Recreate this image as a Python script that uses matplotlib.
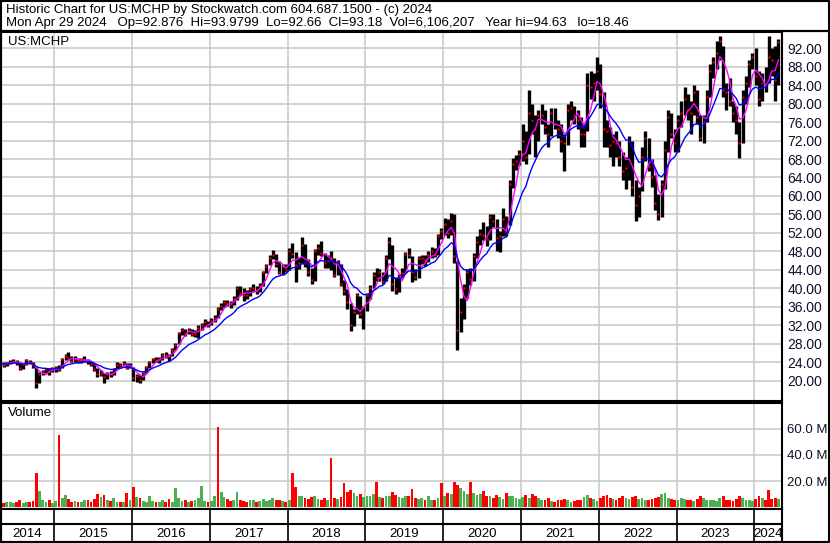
import matplotlib
matplotlib.use("Agg")
import matplotlib.pyplot as plt
import pandas as pd
import numpy as np

plt.rcParams['font.family'] = ['Liberation Sans', 'DejaVu Sans']

# half-month buckets: 2nd half of Apr 2014, then both halves of each month up to Apr 2024
close = [
    23.7, 23.4, 23.9, 24.2, 24.4, 24.0, 22.7, 23.6, 24.5, 24.0, 23.6, 19.5, 21.5, 22.0, 22.6, 22.0, 22.6,
    22.8, 22.5, 24.8, 25.3, 25.0, 24.4, 24.8, 24.3, 24.6, 24.6, 24.3, 23.7, 22.6, 21.6, 21.6, 20.8, 21.7, 21.5, 22.6, 23.5, 23.4, 23.9, 22.8, 23.3,
    20.7, 21.0, 20.2, 21.6, 23.0, 24.1, 24.8, 24.6, 24.7, 25.7, 25.6, 25.4, 26.8, 27.8, 30.3, 31.0, 30.3, 31.1, 30.2, 30.2, 31.5, 32.0, 32.8, 32.1,
    33.0, 33.7, 35.6, 36.2, 37.0, 36.9, 36.6, 37.8, 40.0, 39.0, 38.7, 38.6, 39.8, 40.0, 39.5, 40.6, 43.5, 44.9, 46.7, 47.2, 45.3, 43.6, 44.8, 43.9,
    48.2, 47.5, 45.0, 45.5, 49.5, 45.6, 43.5, 41.8, 48.0, 48.8, 47.7, 45.5, 46.0, 46.6, 43.0, 45.8, 41.0, 39.5, 37.0, 32.0, 35.0, 38.5, 34.5, 35.9,
    38.5, 40.2, 43.0, 42.3, 43.5, 41.5, 46.5, 50.0, 41.0, 39.8, 42.5, 43.4, 47.5, 47.3, 43.5, 42.5, 46.5, 46.5, 46.2, 47.2, 48.0, 47.3, 51.3, 52.4,
    54.0, 52.0, 54.5, 47.0, 31.0, 35.0, 40.0, 43.5, 42.0, 47.0, 50.0, 51.8, 51.5, 50.8, 55.5, 54.7, 51.0, 51.4, 55.0, 52.5, 62.5, 67.0, 67.5, 69.1,
    72.0, 68.5, 78.0, 76.5, 74.5, 77.5, 77.5, 75.0, 73.5, 78.0, 75.5, 74.5, 72.0, 71.5, 78.5, 79.0, 77.5, 76.5, 73.5, 73.5, 84.0, 83.5, 84.5, 87.0,
    82.0, 74.5, 74.0, 71.0, 72.0, 71.5, 68.5, 65.5, 66.0, 72.0, 62.0, 58.0, 60.0, 68.5, 72.5, 66.5, 64.0, 58.5, 56.0, 62.5, 70.0, 77.0, 73.5, 71.5,
    76.5, 78.0, 81.0, 78.5, 78.0, 82.5, 77.0, 72.5, 76.0, 81.5, 87.0, 89.0, 91.0, 93.5, 83.0, 82.5, 80.5, 78.0, 76.5, 71.5, 81.5, 84.5, 88.5, 90.0,
    86.0, 81.0, 84.5, 84.0, 90.0, 89.5, 85.0, 93.2,
]
high = [
    24.2, 24.0, 24.2, 24.5, 24.7, 24.6, 24.0, 23.8, 24.7, 24.6, 24.1, 23.0, 21.9, 22.4, 22.9, 22.8, 23.1,
    23.2, 23.4, 25.0, 25.9, 26.2, 25.3, 25.3, 25.0, 24.9, 25.3, 24.8, 24.4, 23.8, 22.7, 22.3, 21.7, 22.0, 22.1, 22.9, 24.1, 23.9, 24.3, 23.9, 23.8,
    23.0, 21.6, 21.2, 22.0, 23.3, 24.4, 25.0, 25.2, 25.1, 26.0, 26.3, 25.8, 27.1, 28.2, 30.7, 31.5, 31.2, 31.4, 31.2, 31.0, 32.0, 32.5, 33.3, 33.0,
    33.6, 34.3, 36.1, 36.8, 37.6, 37.5, 37.4, 38.3, 40.5, 40.6, 40.2, 39.6, 40.3, 41.0, 40.5, 41.2, 43.8, 45.3, 47.2, 48.3, 47.5, 46.0, 45.4, 45.3,
    48.8, 49.9, 47.9, 46.8, 51.2, 49.6, 46.3, 44.5, 48.6, 49.6, 50.3, 47.7, 47.3, 48.2, 46.5, 46.2, 45.3, 41.9, 39.8, 36.8, 35.6, 39.0, 38.4, 36.3,
    39.0, 40.8, 43.5, 44.5, 44.3, 43.6, 47.2, 51.2, 49.5, 42.4, 43.1, 44.4, 47.9, 48.7, 47.0, 44.2, 47.0, 47.3, 47.3, 48.2, 48.9, 48.7, 51.7, 53.0,
    55.2, 55.0, 56.3, 56.0, 46.0, 38.0, 41.0, 44.2, 44.5, 47.6, 51.3, 52.8, 54.3, 53.5, 56.2, 56.1, 55.0, 52.4, 57.3, 55.6, 63.5, 68.3, 68.9, 69.9,
    75.5, 74.0, 83.0, 80.0, 77.5, 78.5, 80.0, 78.5, 75.5, 79.0, 79.0, 76.5, 75.5, 73.5, 80.0, 80.5, 79.5, 78.5, 77.0, 75.5, 86.5, 87.0, 86.5, 90.0,
    88.5, 82.5, 76.5, 75.0, 73.5, 74.0, 72.0, 69.5, 68.5, 73.0, 72.0, 63.5, 62.0, 70.5, 74.0, 72.5, 68.0, 64.5, 60.5, 63.5, 72.0, 78.5, 78.0, 74.5,
    77.5, 80.5, 83.5, 82.0, 80.5, 84.0, 83.0, 77.5, 77.5, 83.0, 88.5, 90.0, 93.5, 94.6, 92.5, 84.5, 85.5, 80.5, 79.5, 76.0, 83.0, 86.0, 89.5, 91.0,
    92.0, 87.0, 86.5, 88.0, 94.5, 92.0, 92.5, 94.0,
]
low = [
    22.9, 23.0, 23.2, 23.6, 23.9, 23.5, 22.4, 22.6, 23.5, 23.6, 22.8, 18.5, 19.5, 21.2, 21.8, 21.3, 21.9,
    22.0, 22.1, 22.8, 24.6, 24.7, 24.1, 24.2, 23.8, 23.9, 24.2, 23.7, 23.3, 22.2, 20.9, 21.0, 19.5, 20.5, 20.8, 21.4, 22.5, 22.9, 23.2, 22.5, 22.7,
    20.0, 19.8, 19.6, 20.3, 21.8, 22.8, 23.8, 24.0, 23.9, 24.6, 25.0, 24.3, 25.4, 26.7, 27.9, 30.0, 29.8, 30.1, 29.8, 29.6, 29.4, 31.0, 31.8, 31.7,
    32.0, 32.8, 33.6, 35.3, 36.0, 36.2, 35.8, 36.4, 37.6, 38.6, 37.4, 37.8, 38.3, 39.3, 38.8, 39.3, 40.6, 43.3, 45.0, 46.3, 44.6, 43.1, 42.9, 43.5,
    44.0, 46.7, 41.5, 44.3, 45.3, 44.6, 42.6, 40.9, 41.7, 47.2, 47.0, 44.4, 44.5, 43.9, 42.4, 43.0, 40.5, 38.6, 35.5, 30.8, 31.9, 34.5, 33.6, 31.3,
    35.2, 37.8, 40.0, 41.7, 41.6, 40.9, 41.6, 46.3, 39.5, 38.9, 39.2, 42.2, 43.3, 46.5, 41.5, 41.8, 42.3, 45.2, 44.8, 45.7, 46.7, 46.8, 47.3, 50.8,
    51.6, 51.0, 51.5, 45.5, 26.8, 30.5, 33.5, 38.0, 40.8, 41.6, 46.6, 49.5, 50.5, 49.2, 50.5, 53.3, 48.2, 47.8, 51.3, 51.4, 53.8, 61.8, 65.7, 66.8,
    67.5, 67.0, 69.0, 73.5, 68.5, 72.0, 75.5, 73.5, 70.5, 73.0, 74.5, 72.5, 69.5, 65.5, 71.0, 76.5, 75.5, 74.5, 70.5, 70.5, 74.0, 81.0, 80.5, 83.0,
    79.0, 70.5, 70.5, 68.5, 66.5, 68.5, 66.5, 63.5, 61.5, 63.5, 60.0, 54.5, 55.5, 61.0, 67.5, 65.5, 62.0, 57.0, 54.8, 55.5, 61.5, 69.5, 72.5, 69.5,
    69.5, 75.0, 77.5, 76.5, 73.5, 77.5, 75.5, 72.0, 71.5, 76.0, 81.5, 85.5, 87.5, 89.5, 81.5, 78.5, 79.5, 76.0, 73.5, 68.2, 71.5, 80.0, 83.5, 87.5,
    84.0, 79.5, 80.5, 82.5, 84.5, 86.0, 80.5, 84.0,
]
# volume, millions of shares
volume = [
    4.5, 3.5, 3.8, 4.2, 3.0, 4.0, 5.5, 3.5, 4.0, 3.8, 5.0, 26.6, 12.5, 6.0, 4.0, 5.5, 3.5,
    5.0, 55.6, 7.0, 9.5, 6.5, 4.5, 5.0, 4.0, 4.5, 6.0, 5.5, 4.0, 6.5, 10.5, 8.0, 9.8, 6.0, 5.0, 7.0, 4.5, 4.0, 4.5, 11.0, 6.0,
    15.5, 8.0, 7.5, 5.0, 4.5, 8.5, 5.0, 4.0, 4.5, 5.5, 4.0, 6.5, 4.5, 15.0, 7.0, 5.0, 5.5, 4.5, 5.0, 6.0, 7.0, 16.0, 5.0, 4.0,
    5.0, 9.0, 61.0, 12.0, 8.0, 6.5, 5.0, 5.5, 11.5, 6.0, 5.0, 4.5, 5.5, 6.0, 4.5, 5.0, 6.5, 5.0, 5.5, 7.0, 5.5, 6.0, 5.0, 4.5,
    6.0, 26.6, 15.5, 9.0, 8.5, 7.0, 6.5, 8.0, 9.0, 6.5, 5.5, 7.0, 6.0, 38.0, 7.5, 6.5, 8.0, 18.5, 12.0, 13.5, 11.0, 9.0, 10.5, 8.0,
    9.0, 8.5, 10.0, 19.5, 8.0, 7.5, 9.0, 8.5, 12.0, 9.5, 8.0, 7.5, 8.5, 9.0, 14.0, 7.0, 6.5, 7.0, 6.0, 8.5, 6.0, 5.5, 7.5, 18.5,
    9.0, 11.0, 10.5, 19.5, 17.0, 15.0, 12.5, 10.0, 19.5, 11.0, 9.5, 10.5, 12.5, 9.0, 8.5, 7.5, 9.5, 8.0, 6.5, 11.0, 9.0, 8.5, 7.0, 6.5,
    8.0, 9.5, 7.5, 10.0, 8.5, 7.0, 6.0, 5.5, 7.0, 5.0, 4.5, 5.5, 6.0, 6.5, 5.5, 4.5, 5.0, 6.0, 5.5, 8.0, 9.5, 7.0, 6.5, 5.0,
    7.5, 8.5, 9.5, 7.0, 6.5, 6.0, 7.0, 8.5, 7.5, 6.5, 8.0, 9.0, 6.5, 7.0, 6.0, 5.5, 6.5, 7.0, 8.0, 10.5, 11.0, 7.5, 6.5, 5.5,
    6.0, 7.5, 6.5, 5.5, 6.0, 5.0, 6.5, 8.5, 7.0, 6.0, 5.5, 6.0, 5.0, 7.0, 9.0, 6.0, 5.5, 5.0, 6.5, 8.5, 7.5, 6.0, 5.5, 5.0,
    6.5, 9.0, 7.0, 6.0, 13.0, 6.5, 7.5, 6.1,
]
# buckets whose heavy-volume day closed lower (drawn red)
down_spikes = [11, 18, 67, 90, 102, 106, 136, 140, 237]
years = list(range(2014, 2025))
price_ticks = list(range(20, 93, 4))
vol_ticks = [20, 40, 60]

halves = []
for m in pd.period_range('2014-04', '2024-04', freq='M'):
    halves.append(m.start_time + pd.Timedelta(days=7))
    halves.append(m.start_time + pd.Timedelta(days=22))
df = pd.DataFrame({'close': close, 'high': high, 'low': low, 'vol': volume},
                  index=pd.DatetimeIndex(halves[1:]))
ma_fast = df['close'].rolling(4, min_periods=1).mean()
ma_slow = df['close'].ewm(span=12, adjust=False).mean()
up = (df['close'].diff().fillna(0) >= 0).to_numpy()
up[down_spikes] = False

W, H = 830, 543
fig = plt.figure(figsize=(W / 100, H / 100), dpi=100)


def box(x0, y0, x1, y1):
    return [x0 / W, 1 - y1 / H, (x1 - x0) / W, (y1 - y0) / H]


x_left = pd.Timestamp('2014-04-26')
x_right = pd.Timestamp('2024-05-10')
year_starts = [pd.Timestamp(f'{y}-01-01') for y in years[1:]]
grid_c = '#c8c8c8'

ax = fig.add_axes(box(1, 31.5, 782, 400.5))
axv = fig.add_axes(box(1, 402.5, 782, 509))
axy = fig.add_axes(box(1, 509, 782, 542))

for a in (ax, axv, axy):
    a.set_xlim(x_left, x_right)
    a.set_xticks([])
    for s in a.spines.values():
        s.set_linewidth(1.5)
        s.set_color('black')

# price panel
for t in price_ticks:
    ax.axhline(t, color=grid_c, lw=1.1, zorder=0)
for d in year_starts:
    ax.axvline(d, color=grid_c, lw=1.1, zorder=0)
ax.vlines(df.index, df['low'], df['high'], color='black', lw=2.4, zorder=2)
ax.plot(df.index, df['close'], ls='none', marker='s', ms=1.5, mec='none', mfc='red', zorder=3)
ax.plot(df.index, ma_fast, color='#ff00ff', lw=1.0, zorder=4)
ax.plot(df.index, ma_slow, color='#0000ff', lw=1.0, zorder=4)
ax.set_ylim(15.78, 95.57)
ax.yaxis.tick_right()
ax.set_yticks(price_ticks)
ax.set_yticklabels([f'{t:.2f}' for t in price_ticks])
ax.tick_params(axis='y', length=0, pad=4, labelsize=10, labelcolor='#10102a')
ax.text(0.009, 0.972, 'US:MCHP', transform=ax.transAxes, fontsize=9.5, va='center', ha='left')

# volume panel
for t in vol_ticks:
    axv.axhline(t, color=grid_c, lw=1.1, zorder=0)
for d in year_starts:
    axv.axvline(d, color=grid_c, lw=1.1, zorder=0)
colors = np.where(up, '#4caf50', '#ff0000')
axv.bar(df.index, df['vol'], width=13, color=colors, zorder=2)
axv.set_ylim(-1.2, 80)
axv.yaxis.tick_right()
axv.set_yticks(vol_ticks)
axv.set_yticklabels([f'{t:.1f} M' for t in vol_ticks])
axv.tick_params(axis='y', length=0, pad=3.5, labelsize=9.5, labelcolor='#10102a')
axv.text(0.009, 0.9, 'Volume', transform=axv.transAxes, fontsize=9.5, va='center', ha='left')

# year row
axy.set_ylim(0, 2)
axy.set_yticks([])
axy.axhline(1.08, color='black', lw=1.5)
for d in year_starts:
    axy.axvline(d, color='black', lw=1.2)
edges = [x_left] + year_starts + [x_right]
for y, a, b in zip(years, edges[:-1], edges[1:]):
    axy.text(a + (b - a) / 2, 0.5, str(y), ha='center', va='center', fontsize=9.5)

# header and frame
ov = fig.add_axes([0, 0, 1, 1], facecolor='none')
ov.set_xlim(0, W)
ov.set_ylim(H, 0)
ov.axis('off')
ov.plot([0.5, W - 1, W - 1, 0.5, 0.5], [0.5, 0.5, H - 1, H - 1, 0.5], color='black', lw=1.5)
ov.plot([0, W], [30.8, 30.8], color='black', lw=1.6)
ov.text(6, 9.5, 'Historic Chart for US:MCHP by Stockwatch.com 604.687.1500 - (c) 2024',
        fontsize=9.5, va='center', ha='left')
ov.text(6, 23, 'Mon Apr 29 2024   Op=92.876  Hi=93.9799  Lo=92.66  Cl=93.18  '
        'Vol=6,106,207   Year hi=94.63   lo=18.46', fontsize=9.5, va='center', ha='left')

fig.savefig('out.png', dpi=100)
